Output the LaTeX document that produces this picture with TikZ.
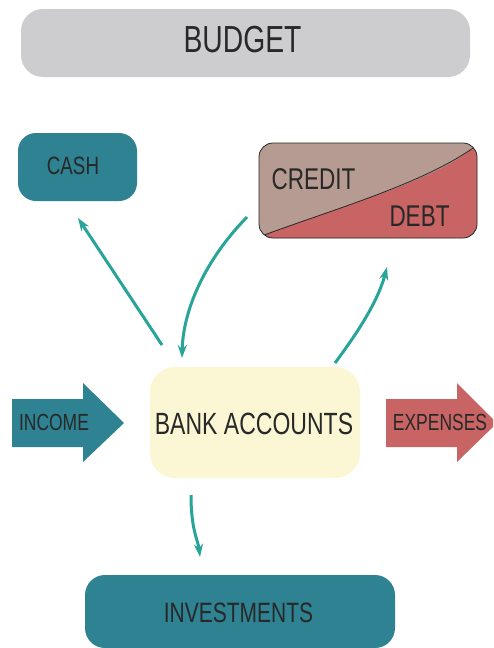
\documentclass[tikz,border=0pt]{standalone}
\usepackage{fontspec}
\newfontfamily\hand[FakeStretch=0.75]{Liberation Sans}
\usetikzlibrary{arrows.meta}
\definecolor{boxgray}{RGB}{205,204,206}
\definecolor{tealbox}{RGB}{46,130,145}
\definecolor{tealline}{RGB}{40,165,152}
\definecolor{paleyellow}{RGB}{251,246,211}
\definecolor{taupe}{RGB}{181,155,145}
\definecolor{redbox}{RGB}{201,100,100}
\definecolor{inkgray}{RGB}{40,40,40}
\tikzset{
  box/.style={rounded corners=#1, inner sep=0pt},
  lbl/.style={font=\hand\fontsize{#1}{#1}\selectfont, text=inkgray, inner sep=0pt, anchor=center},
  conn/.style={draw=tealline, line width=3pt, -{Stealth[length=13pt,width=9pt]}},
}
\begin{document}
\begin{tikzpicture}[x=1pt,y=-1pt]
\clip (0,0) rectangle (493,648);
\fill[white] (0,0) rectangle (493,648);
% boxes
\node[box=22, fill=boxgray, minimum width=449pt, minimum height=68pt] (budgetbox) at (245.5,43) {};
\node[lbl=37.7] (budget) at (242.5,40) {BUDGET};
\node[box=18, fill=tealbox, minimum width=119pt, minimum height=68pt] (cash) at (77.5,167) {};
\node[lbl=25] (cashlbl) at (73,166) {CASH};
\node[box=14, draw=inkgray, line width=0.8pt, minimum width=218pt, minimum height=95pt,
  path picture={
    \fill[taupe] (path picture bounding box.south west) rectangle (path picture bounding box.north east);
    \fill[redbox] (-112,47.5) .. controls (-30,17) and (60,-8) .. (112,-47.5) -- (112,54.5) -- (-118,54.5) -- cycle;
    \draw[inkgray, line width=0.8pt] (-112,47.5) .. controls (-30,17) and (60,-8) .. (112,-47.5);
  }] (credit) at (368,190.5) {};
\node[lbl=30] (creditlbl) at (313.5,179) {CREDIT};
\node[lbl=30] (debtlbl) at (419.5,216) {DEBT};
\node[box=25, fill=paleyellow, minimum width=210pt, minimum height=111pt] (bank) at (255,422.5) {};
\node[lbl=30.7] (banklbl) at (254,424) {BANK ACCOUNTS};
\node[box=20, fill=tealbox, minimum width=310pt, minimum height=73pt] (invest) at (240,611.5) {};
\node[lbl=28] (investlbl) at (238.5,613) {INVESTMENTS};
% big arrows
\fill[tealbox] (12,399) -- (83,399) -- (83,383) -- (124,423) -- (83,462) -- (83,447) -- (12,447) -- cycle;
\node[lbl=23.3] (income) at (54,422) {INCOME};
\fill[redbox] (386,399) -- (457,399) -- (457,383) -- (497,423) -- (457,462) -- (457,447) -- (386,447) -- cycle;
\node[lbl=23.3] (expenses) at (440,422) {EXPENSES};
% connector end points
\coordinate (bankNW) at (162,345);
\coordinate (cashS) at (78,218);
\coordinate (creditW) at (247,217);
\coordinate (bankN) at (182,358);
\coordinate (bankNE) at (335,363);
\coordinate (creditS) at (387,267);
\coordinate (bankS) at (191,495);
\coordinate (investN) at (200,557);
\draw[conn] (bankNW) -- (cashS);
\draw[conn] (creditW) .. controls (205,260) and (183,310) .. (bankN);
\draw[conn] (bankNE) .. controls (352,340) and (377,305) .. (creditS);
\draw[conn] (bankS) .. controls (191,530) and (198,540) .. (investN);
\end{tikzpicture}
\end{document}
